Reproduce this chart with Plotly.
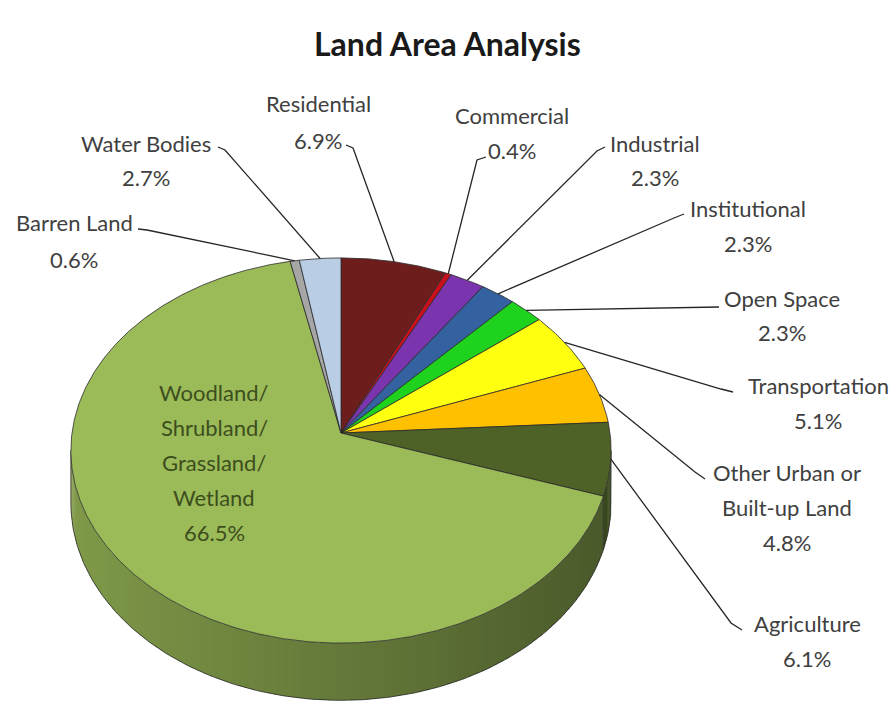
import numpy as np
import plotly.graph_objects as go

# ---- data ----
categories = [
    "Residential", "Commercial", "Industrial", "Institutional", "Open Space",
    "Transportation", "Other Urban or Built-up Land", "Agriculture",
    "Woodland/Shrubland/Grassland/Wetland", "Barren Land", "Water Bodies",
]
shares = [6.9, 0.4, 2.3, 2.3, 2.3, 5.1, 4.8, 6.1, 66.5, 0.6, 2.7]
label_lines = [
    ["Residential"], ["Commercial"], ["Industrial"], ["Institutional"],
    ["Open Space"], ["Transportation"], ["Other Urban or", "Built-up Land"],
    ["Agriculture"], ["Woodland/", "Shrubland/", "Grassland/", "Wetland"],
    ["Barren Land"], ["Water Bodies"],
]
colors = [
    "#6e1d1d", "#c8101c", "#7934ae", "#3461a0", "#1ed21e",
    "#ffff10", "#ffc000", "#4e6227", "#9bbb59", "#a6a6a6", "#b9cde5",
]
# how much lighter each slice's wall is kept relative to the default shading
wall_gain = [1, 1, 1, 1, 1, 1, 1, 1.55, 1, 1, 1]

# ---- geometry of the tilted pie (pixel space, perspective disc) ----
W, H = 895, 702
CX, CY = 341, 433        # projected centre of the disc
A, B = 269, 191          # horizontal / vertical radius scale
K = 0.091                # perspective strength (near edge looks larger)
D = 52                   # wall height

# label placement: (text x, first-line y, line step, leader points near the text)
label_layout = [
    (318, 103, 37, [(346, 145), (353, 148)]),
    (512, 115, 35, [(486, 157), (477, 160)]),
    (655, 143, 34, [(605, 147), (597, 151)]),
    (748, 208, 35, [(684, 214), (674, 218)]),
    (782, 298, 34, [(719, 307)]),
    (818, 385, 35, [(733, 392), (721, 389)]),
    (787, 472, 35, [(705, 479), (695, 472)]),
    (807, 623, 35, [(742, 630), (731, 623)]),
    (214, 392, 35, None),
    (74, 222, 37, [(138, 229), (147, 230)]),
    (146, 143, 34, [(218, 147), (225, 150)]),
]


def rim(theta_deg, drop=0.0):
    t = np.radians(np.asarray(theta_deg, dtype=float))
    s, c = np.sin(t), np.cos(t)
    den = 1 + K * s
    return CX + A * c / den, CY - (B * s - drop) / den


def shade(hex_color, f):
    h = hex_color.lstrip("#")
    r, g, b = (int(h[i:i + 2], 16) for i in (0, 2, 4))
    return "rgb({},{},{})".format(*(min(255, int(v * f)) for v in (r, g, b)))


cum = np.concatenate([[0.0], np.cumsum(shares)])
starts = 90 - 3.6 * cum[:-1]   # clockwise from 12 o'clock
ends = 90 - 3.6 * cum[1:]

# silhouette of the cylinder (where the rim is widest)
sil = np.degrees(np.arcsin(K))
WALL_HI, WALL_LO = -sil, -180 + sil

fig = go.Figure()

# ---- side wall, shaded strip by strip ----
for i in range(len(shares)):
    lo, hi = max(ends[i], WALL_LO - 1), min(starts[i], WALL_HI + 1)
    if hi <= lo:
        continue
    n = max(2, int(np.ceil((hi - lo) / 1.5)))
    edges = np.linspace(hi, lo, n + 1)
    for a1, a2 in zip(edges[:-1], edges[1:]):
        mid = np.radians((a1 + a2) / 2)
        f = (0.65 - 0.18 * np.cos(mid)) * wall_gain[i]
        a2x = max(a2 - 0.6, lo)  # slight overlap hides seams
        arc = np.linspace(a1, a2x, 4)
        xt, yt = rim(arc)
        xb, yb = rim(arc[::-1], D)
        col = shade(colors[i], f)
        fig.add_trace(go.Scatter(
            x=np.concatenate([xt, xb, xt[:1]]), y=np.concatenate([yt, yb, yt[:1]]),
            mode="lines", fill="toself", fillcolor=col,
            line=dict(width=0), hoverinfo="skip", showlegend=False))

# outline of the wall
wall = np.linspace(WALL_HI, WALL_LO, 200)
xb, yb = rim(wall, D)
xl, yl = rim([WALL_LO])
xr, yr = rim([WALL_HI])
fig.add_trace(go.Scatter(
    x=np.concatenate([xr, xb, xl]), y=np.concatenate([yr, yb, yl]),
    mode="lines", line=dict(color="#2a2a2a", width=0.8),
    hoverinfo="skip", showlegend=False))
for i in range(len(shares)):
    a = starts[i]
    if WALL_LO < a < WALL_HI:
        xs, ys = rim([a, a], np.array([0, D]))
        fig.add_trace(go.Scatter(x=xs, y=ys, mode="lines",
                                 line=dict(color="#2a2a2a", width=0.8),
                                 hoverinfo="skip", showlegend=False))

# ---- top faces ----
for i in range(len(shares)):
    n = max(3, int(abs(starts[i] - ends[i]) * 2))
    arc = np.linspace(starts[i], ends[i], n)
    xa, ya = rim(arc)
    fig.add_trace(go.Scatter(
        x=np.concatenate([[CX], xa, [CX]]), y=np.concatenate([[CY], ya, [CY]]),
        mode="lines", fill="toself", fillcolor=colors[i],
        line=dict(color="#2a2a2a", width=0.8), name=categories[i],
        hoverinfo="name", showlegend=False))

# ---- labels & leader lines ----
annotations = []
for i in range(len(shares)):
    tx, ty, step, leader = label_layout[i]
    lines = label_lines[i] + ["{:.1f}%".format(shares[i])]
    inside = leader is None
    for k, txt in enumerate(lines):
        annotations.append(dict(
            x=tx, y=ty + k * step, xref="x", yref="y", text=txt,
            showarrow=False, xanchor="center", yanchor="middle",
            font=dict(family="Lato, 'Open Sans', sans-serif", size=22,
                      color="#3d4e1d" if inside else "#404040")))
    if leader:
        mid = (starts[i] + ends[i]) / 2
        ax, ay = rim([mid])
        px = [p[0] for p in leader] + [float(ax[0])]
        py = [p[1] for p in leader] + [float(ay[0])]
        fig.add_trace(go.Scatter(x=px, y=py, mode="lines",
                                 line=dict(color="#262626", width=1.3),
                                 hoverinfo="skip", showlegend=False))

annotations.append(dict(
    x=447, y=43, xref="x", yref="y", text="<b>Land Area Analysis</b>",
    showarrow=False, xanchor="center", yanchor="middle",
    font=dict(family="Lato, 'Open Sans', sans-serif", size=32, color="#1a1a1a")))

fig.update_layout(
    width=W, height=H, margin=dict(l=0, r=0, t=0, b=0),
    paper_bgcolor="white", plot_bgcolor="white",
    xaxis=dict(range=[0, W], visible=False, fixedrange=True),
    yaxis=dict(range=[H, 0], visible=False, fixedrange=True),
    annotations=annotations, showlegend=False,
)

fig.write_html("out.html")
